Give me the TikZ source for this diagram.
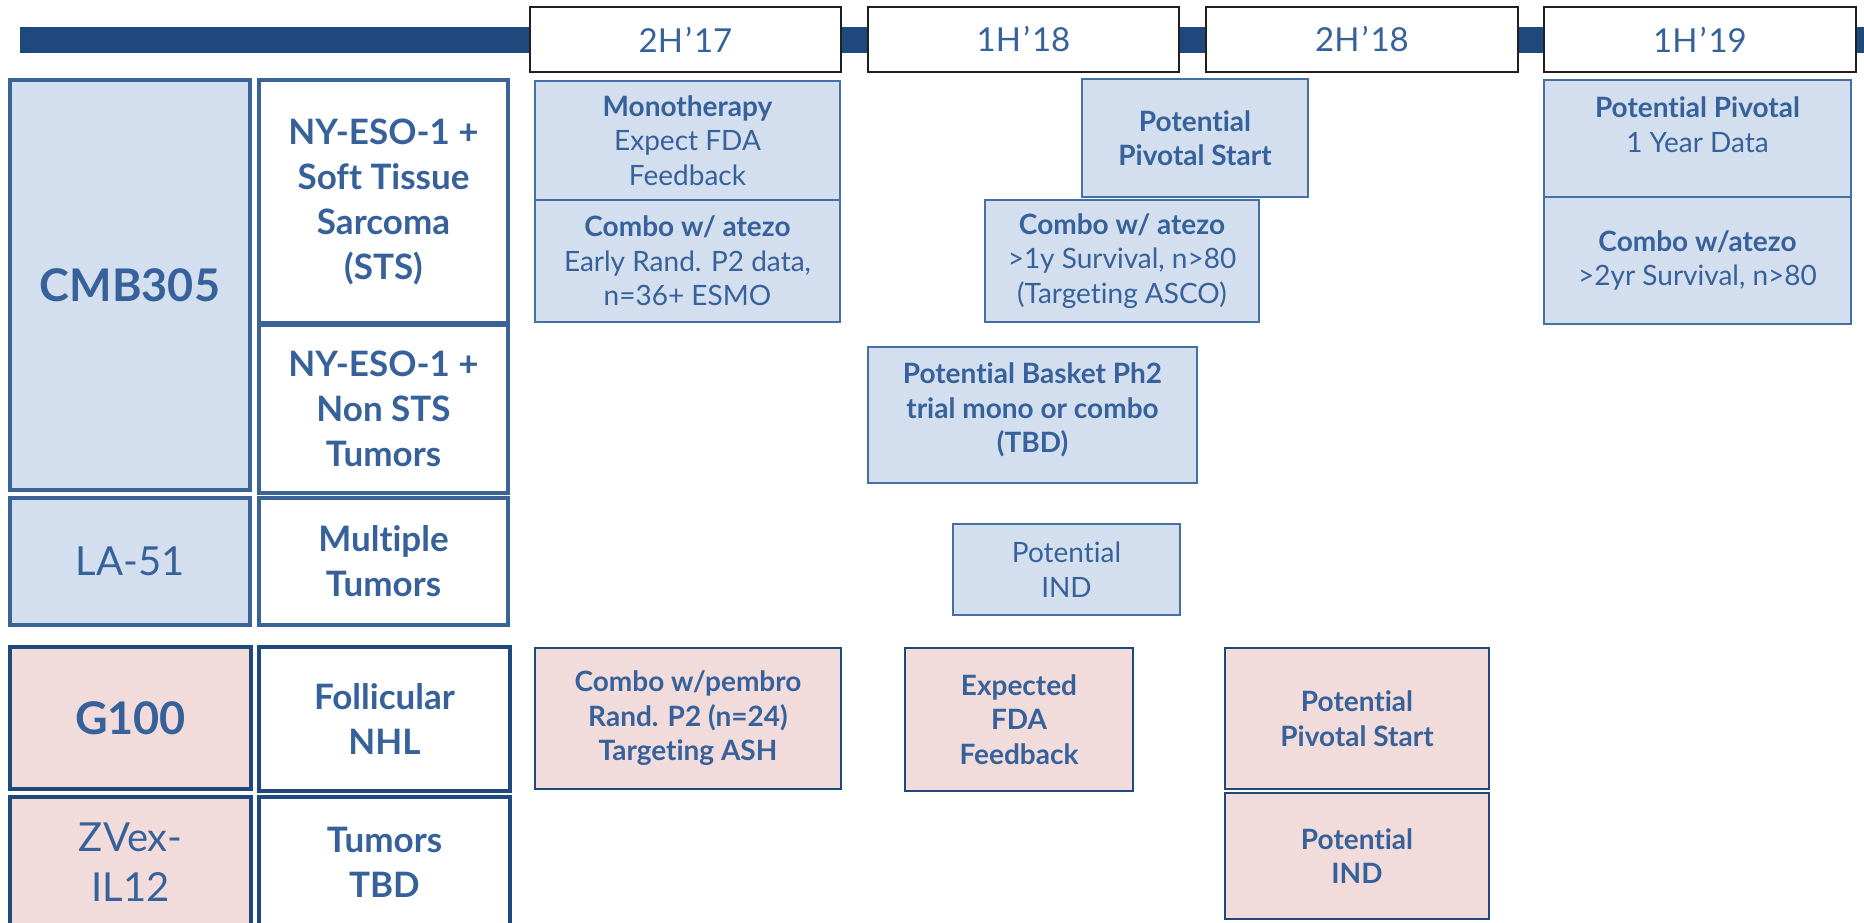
\documentclass[tikz,border=0pt]{standalone}
\usepackage{fontspec}
\setmainfont[Ligatures=NoCommon]{Lato}
\definecolor{barblue}{HTML}{1F497D}
\definecolor{txtblue}{HTML}{36619A}
\definecolor{lblue}{HTML}{D3DFEE}
\definecolor{bblue}{HTML}{4470A6}
\definecolor{cblue}{HTML}{3A6496}
\definecolor{dblue}{HTML}{1F497D}
\definecolor{lpink}{HTML}{F2DCDB}
\definecolor{hdrline}{HTML}{202020}
\newcommand\bx[6][]{%
  \pgfmathsetmacro\bxcx{(#3+#5)/2}\pgfmathsetmacro\bxcy{(#4+#6)/2}%
  \pgfmathsetmacro\bxw{#5-#3}\pgfmathsetmacro\bxh{#6-#4}%
  \node[#1, minimum width=\bxw pt, minimum height=\bxh pt] (#2) at (\bxcx,\bxcy) {};}
\newcommand\hq{\kern2pt’\kern2pt}
\begin{document}
\begin{tikzpicture}[x=1pt,y=-1pt,
  box/.style={inner sep=0pt, outer sep=0pt},
  hdr/.style={box, fill=white, draw=hdrline, line width=1.6pt},
  bluebox/.style={box, fill=lblue, draw=bblue, line width=1.8pt},
  pinkbox/.style={box, fill=lpink, draw=dblue, line width=1.8pt},
  catblue/.style={box, fill=lblue, draw=cblue, line width=3.4pt},
  catwhite/.style={box, fill=white, draw=cblue, line width=3.4pt},
  catpink/.style={box, fill=lpink, draw=dblue, line width=4pt},
  catwhite2/.style={box, fill=white, draw=dblue, line width=4pt},
  txt/.style={inner sep=0pt, text=txtblue, align=center},
  sm/.style={txt, font=\fontsize{28}{34.5}\selectfont},
  smb/.style={txt, font=\bfseries\fontsize{28}{34.5}\selectfont},
  hd/.style={txt, font=\fontsize{33}{36}\selectfont},
  cat/.style={txt, font=\bfseries\fontsize{35}{45}\selectfont},
  catr/.style={txt, font=\fontsize{40}{50}\selectfont},
  big/.style={txt, font=\bfseries\fontsize{45}{50}\selectfont}]
\useasboundingbox (0,0) rectangle (1864,922);
\clip (0,0) rectangle (1864,922);
% timeline bar
\fill[barblue] (20,27) rectangle (1864,53);
% headers
\bx[hdr]{h1}{530}{7}{841}{72}
\bx[hdr]{h2}{868}{7}{1179}{72}
\bx[hdr]{h3}{1206}{7}{1518}{72}
\bx[hdr]{h4}{1544}{7}{1856}{72}
\node[hd] (h1t) at (h1) {2H\hq 17};
\node[hd] (h2t) at (h2) {1H\hq 18};
\node[hd] (h3t) at (h3) {2H\hq 18};
\node[hd] (h4t) at (h4) {1H\hq 19};
% left column
\bx[catblue]{cmb}{10}{80}{250}{490}
\node[big] (cmbt) at (cmb) {CMB305};
\bx[catwhite]{sts}{259}{80}{508}{323}
\node[cat] (stst) at (sts) {NY-ESO-1 +\\Soft Tissue\\Sarcoma\\(STS)};
\bx[catwhite]{nsts}{259}{325}{508}{493}
\node[cat] (nstst) at (nsts) {NY-ESO-1 +\\Non STS\\Tumors};
\bx[catblue]{la}{10}{498}{250}{625}
\node[catr] (lat) at (la) {LA-51};
\bx[catwhite]{mult}{259}{498}{508}{625}
\node[cat] (multt) at (mult) {Multiple\\Tumors};
\bx[catpink]{g100}{10}{647}{251}{789}
\node[big] (g100t) at (g100) {G100};
\bx[catwhite2]{foll}{259}{647}{510}{791}
\node[cat] (follt) at (foll) {Follicular\\NHL};
\bx[catpink]{zvex}{10}{797}{251}{928}
\node[catr] (zvext) at (zvex) {ZVex-\\IL12};
\bx[catwhite2]{tbd}{259}{797}{510}{928}
\node[cat] (tbdt) at (tbd) {Tumors\\TBD};
% CMB305 STS row
\bx[bluebox]{mono}{535}{81}{840}{200}
\node[sm] (monot) at (mono) {\textbf{Monotherapy}\\Expect FDA\\Feedback};
\bx[bluebox]{comboa}{535}{200}{840}{322}
\node[sm] (comboat) at (comboa) {\textbf{Combo w/ atezo}\\Early Rand. P2 data,\\n=36+ ESMO};
\bx[bluebox]{ppsa}{1082}{79}{1308}{197}
\node[smb] (ppsat) at (ppsa) {Potential\\Pivotal Start};
\bx[bluebox]{combob}{985}{200}{1259}{322}
\node[sm] (combobt) at (combob) {\textbf{Combo w/ atezo}\\>1y Survival, n>80\\(Targeting ASCO)};
\bx[bluebox]{ppc}{1544}{80}{1851}{197}
\node[sm, yshift=14pt] (ppct) at (ppc) {\textbf{Potential Pivotal}\\1 Year Data};
\bx[bluebox]{comboc}{1544}{197}{1851}{324}
\node[sm] (combodt) at (comboc) {\textbf{Combo w/atezo}\\>2yr Survival, n>80};
% non-STS row
\bx[bluebox]{basket}{868}{347}{1197}{483}
\node[smb, yshift=5pt] (baskett) at (basket) {Potential Basket Ph2\\trial mono or combo\\(TBD)};
% LA-51 row
\bx[bluebox]{inda}{953}{524}{1180}{615}
\node[sm] (indat) at (inda) {Potential\\IND};
% G100 row
\bx[pinkbox]{pembro}{535}{648}{841}{789}
\node[smb] (pembrot) at (pembro) {Combo w/pembro\\Rand. P2 (n=24)\\Targeting ASH};
\bx[pinkbox]{fda}{905}{648}{1133}{791}
\node[smb] (fdat) at (fda) {Expected\\FDA\\Feedback};
\bx[pinkbox]{ppsb}{1225}{648}{1489}{789}
\node[smb] (ppsbt) at (ppsb) {Potential\\Pivotal Start};
% ZVex row
\bx[pinkbox]{indb}{1225}{793}{1489}{919}
\node[smb] (indbt) at (indb) {Potential\\IND};
\end{tikzpicture}
\end{document}
